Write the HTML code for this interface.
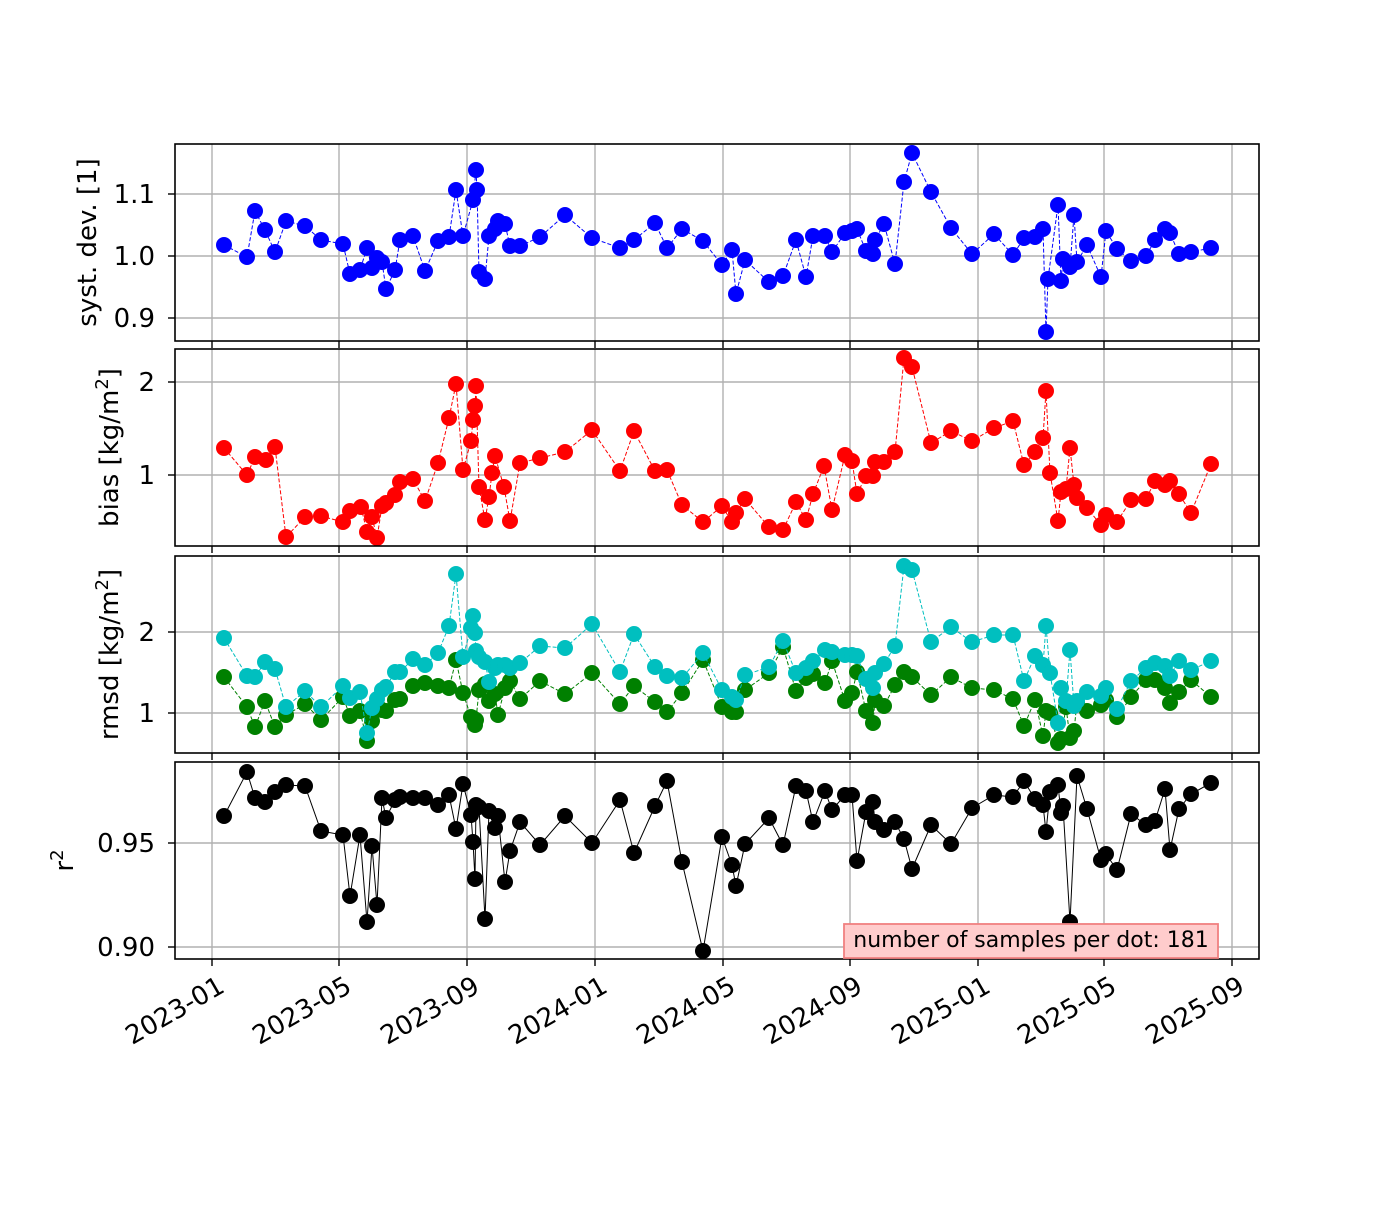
<!DOCTYPE html>
<html><head><meta charset="utf-8"><style>
html,body{margin:0;padding:0;background:#fff;}
svg text{font-family:"DejaVu Sans","Liberation Sans",sans-serif;fill:#000;}
</style></head><body>
<svg id="s" width="1400" height="1200" xmlns="http://www.w3.org/2000/svg"></svg>
<script>
const S=document.getElementById('s');let h='';
const X=[212,339,467,595,723,850,978,1104,1232];
const XL=['2023-01','2023-05','2023-09','2024-01','2024-05','2024-09','2025-01','2025-05','2025-09'];
const P=[[144,341],[349,546],[556,753],[762,959]];
const YT=[[[194,'1.1'],[256,'1.0'],[318,'0.9']],[[382,'2'],[475,'1']],[[632,'2'],[713,'1']],[[843,'0.95'],[947,'0.90']]];
const YLAB=[[96,'syst. dev. [1]'],[118,'bias [kg/m<tspan dy="-10" font-size="18">2</tspan><tspan dy="10">]</tspan>'],[118,'rmsd [kg/m<tspan dy="-10" font-size="18">2</tspan><tspan dy="10">]</tspan>'],[73,'r<tspan dy="-10" font-size="18">2</tspan>']];
function pts(s){return s.trim().split(/\)\s*,\s*\(/).map(t=>t.replace(/[()]/g,'').split(',').map(Number));}
const D=[
[pts("(224,245),(247,257),(255,211),(265,230),(275,252),(286,221),(305,226),(321,240),(343,244),(350,274),(360,270),(367,248),(372,268),(377,258),(382,262),(386,289),(395,270),(400,240),(413,236),(425,271),(438,241),(449,237),(456,190),(463,236),(473,200),(476,170),(477,190),(479,272),(485,279),(489,236),(495,229),(498,221),(505,224),(510,246),(520,246),(540,237),(565,215),(592,238),(620,248),(634,240),(655,223),(667,248),(682,229),(703,241),(722,265),(732,250),(736,294),(745,260),(769,282),(783,276),(796,240),(806,277),(813,236),(825,236),(832,252),(845,233),(852,231),(857,229),(866,251),(873,254),(875,240),(884,224),(895,264),(904,182),(912,153),(931,192),(951,228),(972,254),(994,234),(1013,255),(1024,238),(1035,237),(1043,229),(1046,332),(1048,279),(1058,205),(1061,281),(1063,259),(1070,267),(1074,215),(1077,262),(1087,245),(1101,277),(1106,231),(1117,249),(1131,261),(1146,256),(1155,240),(1165,229),(1170,233),(1179,254),(1191,252),(1211,248)"),'#0000ff',1],
[pts("(224,448),(247,475),(255,457),(266,460),(275,447),(286,537),(305,517),(321,516),(343,522),(350,511),(361,507),(367,532),(372,517),(377,538),(382,506),(386,503),(395,495),(400,482),(413,479),(425,501),(438,463),(449,418),(456,384),(463,470),(471,441),(473,420),(475,406),(476,386),(479,487),(485,520),(489,497),(492,473),(495,456),(504,487),(510,521),(520,463),(540,458),(565,452),(592,430),(620,471),(634,431),(655,471),(667,470),(682,505),(703,522),(722,506),(732,522),(736,513),(745,499),(769,527),(783,530),(796,502),(806,520),(813,494),(824,466),(832,510),(845,455),(852,461),(857,494),(866,476),(873,476),(875,462),(884,462),(895,452),(904,358),(912,367),(931,443),(951,431),(972,441),(994,428),(1013,421),(1024,465),(1035,452),(1043,438),(1046,391),(1050,473),(1058,521),(1061,492),(1066,489),(1070,448),(1074,485),(1077,498),(1087,508),(1101,525),(1106,515),(1117,522),(1131,500),(1146,499),(1155,481),(1165,485),(1170,481),(1179,494),(1191,513),(1211,464)"),'#ff0000',2],
[pts("(224,677),(247,707),(255,727),(265,701),(275,727),(286,715),(305,704),(321,720),(343,697),(350,716),(360,711),(367,741),(372,721),(377,705),(382,710),(386,711),(395,700),(400,699),(413,686),(425,683),(438,686),(449,688),(456,660),(463,693),(471,717),(473,718),(475,725),(476,720),(479,690),(485,684),(489,701),(495,694),(498,715),(505,688),(510,681),(520,699),(540,681),(565,694),(592,673),(620,704),(634,686),(655,702),(667,712),(682,693),(703,660),(722,707),(732,712),(736,712),(745,690),(769,673),(783,647),(796,691),(806,678),(813,674),(825,683),(832,661),(845,701),(852,693),(857,672),(866,711),(873,723),(875,700),(884,706),(895,685),(904,672),(912,677),(931,695),(951,677),(972,688),(994,690),(1013,699),(1024,726),(1035,700),(1043,736),(1046,711),(1050,713),(1058,743),(1061,739),(1066,707),(1070,738),(1074,731),(1077,702),(1087,711),(1101,705),(1106,700),(1117,717),(1131,697),(1146,680),(1155,680),(1165,688),(1170,703),(1179,692),(1191,680),(1211,697)"),'#008000',3],
[pts("(224,638),(247,676),(255,677),(265,662),(275,669),(286,707),(305,691),(321,707),(343,686),(350,698),(360,692),(367,733),(372,708),(377,699),(382,690),(386,687),(395,672),(400,672),(413,659),(425,665),(438,653),(449,626),(456,574),(463,657),(471,628),(473,616),(475,633),(476,651),(479,657),(485,662),(489,682),(495,668),(498,665),(505,665),(510,668),(520,663),(540,646),(565,648),(592,624),(620,672),(634,634),(655,667),(667,676),(682,678),(703,653),(722,690),(732,697),(736,700),(745,675),(769,667),(783,641),(796,673),(806,668),(813,661),(825,650),(832,652),(845,655),(852,655),(857,656),(866,679),(873,688),(875,673),(884,664),(895,646),(904,566),(912,570),(931,642),(951,627),(972,642),(994,635),(1013,635),(1024,681),(1035,656),(1043,665),(1046,626),(1050,673),(1058,723),(1061,688),(1066,701),(1070,650),(1074,706),(1077,701),(1087,692),(1101,696),(1106,688),(1117,709),(1131,681),(1146,668),(1155,663),(1165,666),(1170,676),(1179,661),(1191,670),(1211,661)"),'#00bfbf',3],
[pts("(224,816),(247,772),(255,798),(265,802),(275,792),(286,785),(305,786),(321,831),(343,835),(350,896),(360,835),(367,922),(372,846),(377,905),(382,798),(386,818),(395,800),(400,797),(413,798),(425,798),(438,805),(449,795),(456,829),(463,784),(471,815),(473,842),(475,879),(476,805),(479,807),(485,919),(489,811),(495,828),(498,816),(505,882),(510,851),(520,822),(540,845),(565,816),(592,843),(620,800),(634,853),(655,806),(667,781),(682,862),(703,951),(722,837),(732,865),(736,886),(745,844),(769,818),(783,845),(796,786),(806,791),(813,822),(825,791),(832,810),(845,795),(852,795),(857,861),(866,812),(873,802),(875,822),(884,830),(895,822),(904,839),(912,869),(931,825),(951,844),(972,808),(994,795),(1013,797),(1024,781),(1035,799),(1043,805),(1046,832),(1050,792),(1058,785),(1061,813),(1063,806),(1070,922),(1077,776),(1087,809),(1101,860),(1106,854),(1117,870),(1131,814),(1146,825),(1155,821),(1165,789),(1170,850),(1179,809),(1191,794),(1211,783)"),'#000000',4]];
P.forEach((p,i)=>{
 h+=`<defs><clipPath id="c${i}"><rect x="175" y="${p[0]}" width="1084" height="${p[1]-p[0]}"/></clipPath></defs>`;
 X.forEach(x=>{h+=`<line x1="${x}" y1="${p[0]}" x2="${x}" y2="${p[1]}" stroke="#b0b0b0" stroke-width="1.4"/><line x1="${x}" y1="${p[1]}" x2="${x}" y2="${p[1]+7}" stroke="#000" stroke-width="1.4"/>`;});
 YT[i].forEach(t=>{h+=`<line x1="175" y1="${t[0]}" x2="1259" y2="${t[0]}" stroke="#b0b0b0" stroke-width="1.4"/><line x1="168" y1="${t[0]}" x2="175" y2="${t[0]}" stroke="#000" stroke-width="1.4"/><text x="155" y="${t[0]+9}" font-size="26" text-anchor="end">${t[1]}</text>`;});
 const cy=(p[0]+p[1])/2;
 h+=`<text transform="translate(${YLAB[i][0]},${cy}) rotate(-90)" font-size="26" text-anchor="middle">${YLAB[i][1]}</text>`;
});
D.forEach(d=>{
 const pi=d[2]-1;const c=d[1];
 let g=`<g clip-path="url(#c${pi})">`;
 g+=`<polyline points="${d[0].map(q=>q.join(',')).join(' ')}" fill="none" stroke="${c}" stroke-width="1" ${d[2]==4?'':'stroke-dasharray="4,2"'}/>`;
 d[0].forEach(q=>{g+=`<circle cx="${q[0]}" cy="${q[1]}" r="8" fill="${c}"/>`;});
 h+=g+'</g>';
});
P.forEach(p=>{h+=`<rect x="175" y="${p[0]}" width="1084" height="${p[1]-p[0]}" fill="none" stroke="#000" stroke-width="1.6"/>`;});
X.forEach((x,i)=>{h+=`<text transform="translate(${x+5},${975}) rotate(-30)" font-size="26" text-anchor="end" dominant-baseline="hanging">${XL[i]}</text>`;});
h+=`<rect x="844" y="924" width="374" height="34" fill="#ffcccc" stroke="#f08080" stroke-width="1.8"/><text x="1031" y="947" font-size="22" text-anchor="middle">number of samples per dot: 181</text>`;
S.innerHTML=h;
</script>
</body></html>
